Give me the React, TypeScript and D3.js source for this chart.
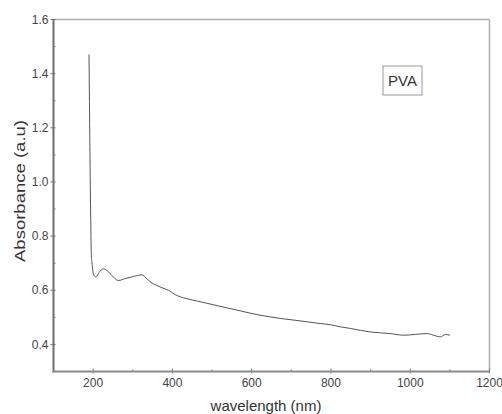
import React, { useRef, useEffect } from "react";
import * as d3 from "d3";

const WIDTH = 502;
const HEIGHT = 414;

// UV-Vis spectrum of PVA film
const wavelength = [
  189.6, 194, 195.5, 197, 200.5, 207.3, 215, 225.8, 235, 247, 263.6, 280.6,
  301.5, 322.7, 335.4, 346, 360.6, 374, 390, 406.8, 420, 436.4, 465.7, 520,
  571, 621, 672, 722, 773, 798, 823, 849, 899, 950, 983, 1013, 1042, 1059,
  1076, 1089, 1100,
];
const absorbance = [
  1.471, 0.857, 0.728, 0.703, 0.661, 0.649, 0.666, 0.679, 0.673, 0.655, 0.636,
  0.643, 0.651, 0.657, 0.643, 0.629, 0.618, 0.609, 0.6, 0.584, 0.576, 0.569,
  0.559, 0.541, 0.524, 0.508, 0.496, 0.487, 0.477, 0.473, 0.465, 0.459, 0.446,
  0.44, 0.434, 0.437, 0.44, 0.434, 0.428, 0.437, 0.434,
];

const xMajor = [200, 400, 600, 800, 1000, 1200];
const xMinor = [300, 500, 700, 900, 1100];
const yMajor = [0.4, 0.6, 0.8, 1.0, 1.2, 1.4, 1.6];
const yMinor = [0.5, 0.7, 0.9, 1.1, 1.3, 1.5];

const FONT = "'Liberation Sans', Arial, sans-serif";

export default function App() {
  const svgRef = useRef<SVGSVGElement | null>(null);

  useEffect(() => {
    const svg = d3.select(svgRef.current);
    svg.selectAll("*").remove();

    const x = d3.scaleLinear().domain([100, 1200]).range([53.5, 489.5]);
    const y = d3.scaleLinear().domain([0.3, 1.6]).range([371.5, 19.5]);

    const [x0, x1] = x.range();
    const [y0, y1] = y.range();

    svg.append("rect").attr("width", WIDTH).attr("height", HEIGHT).attr("fill", "#fff");

    // frame: top and right light, left and bottom heavy
    svg.append("line").attr("x1", x0).attr("x2", x1).attr("y1", y1).attr("y2", y1)
      .attr("stroke", "#b0b0b0").attr("stroke-width", 1.5);
    svg.append("line").attr("x1", x1).attr("x2", x1).attr("y1", y1).attr("y2", y0)
      .attr("stroke", "#b0b0b0").attr("stroke-width", 1.5);

    // ticks
    const tick = "#777";
    svg.selectAll(".ymaj").data(yMajor).join("line")
      .attr("x1", x0 - 3).attr("x2", x0 + 2)
      .attr("y1", (d) => y(d)).attr("y2", (d) => y(d))
      .attr("stroke", tick).attr("stroke-width", 1);
    svg.selectAll(".ymin").data(yMinor).join("line")
      .attr("x1", x0).attr("x2", x0 + 2)
      .attr("y1", (d) => y(d)).attr("y2", (d) => y(d))
      .attr("stroke", tick).attr("stroke-width", 1);
    svg.selectAll(".xmaj").data(xMajor).join("line")
      .attr("x1", (d) => x(d)).attr("x2", (d) => x(d))
      .attr("y1", y0 - 3).attr("y2", y0 + 2)
      .attr("stroke", tick).attr("stroke-width", 1);
    svg.selectAll(".xmin").data(xMinor).join("line")
      .attr("x1", (d) => x(d)).attr("x2", (d) => x(d))
      .attr("y1", y0 - 2).attr("y2", y0)
      .attr("stroke", tick).attr("stroke-width", 1);

    svg.append("line").attr("x1", x0).attr("x2", x0).attr("y1", y1).attr("y2", y0 + 1)
      .attr("stroke", "#6e6e6e").attr("stroke-width", 2);
    svg.append("line").attr("x1", x0 - 1).attr("x2", x1).attr("y1", y0).attr("y2", y0)
      .attr("stroke", "#8a8a8a").attr("stroke-width", 2);

    // tick labels
    svg.selectAll(".ylab").data(yMajor).join("text")
      .attr("x", x0 - 5).attr("y", (d) => y(d)).attr("dy", "0.35em")
      .attr("text-anchor", "end").attr("font-family", FONT).attr("font-size", 12)
      .attr("fill", "#444").text((d) => d3.format(".1f")(d));
    svg.selectAll(".xlab").data(xMajor).join("text")
      .attr("x", (d) => x(d)).attr("y", y0 + 15)
      .attr("text-anchor", "middle").attr("font-family", FONT).attr("font-size", 12)
      .attr("fill", "#444").text((d) => d);

    // axis titles
    svg.append("text")
      .attr("x", 266).attr("y", 411)
      .attr("text-anchor", "middle").attr("font-family", FONT).attr("font-size", 15)
      .attr("fill", "#333").text("wavelength (nm)");
    svg.append("text")
      .attr("transform", `translate(25,191) rotate(-90)`)
      .attr("text-anchor", "middle").attr("font-family", FONT).attr("font-size", 15)
      .attr("textLength", 142).attr("lengthAdjust", "spacingAndGlyphs")
      .attr("fill", "#333").text("Absorbance (a.u)");

    // spectrum
    const pts = wavelength.map((w, i) => [w, absorbance[i]] as [number, number]);
    const line = d3.line<[number, number]>()
      .x((d) => x(d[0])).y((d) => y(d[1]))
      .curve(d3.curveMonotoneX);
    svg.append("path").datum(pts).attr("d", line)
      .attr("fill", "none").attr("stroke", "#555").attr("stroke-width", 1);

    // legend box
    svg.append("rect").attr("x", 383).attr("y", 66).attr("width", 39).attr("height", 29)
      .attr("fill", "#fff").attr("stroke", "#999").attr("stroke-width", 1);
    svg.append("text").attr("x", 402.5).attr("y", 80.5).attr("dy", "0.36em")
      .attr("text-anchor", "middle").attr("font-family", FONT).attr("font-size", 15)
      .attr("fill", "#333").text("PVA");
  }, []);

  return (
    <svg
      ref={svgRef}
      width={WIDTH}
      height={HEIGHT}
      style={{ position: "absolute", left: 0, top: 0 }}
    />
  );
}
